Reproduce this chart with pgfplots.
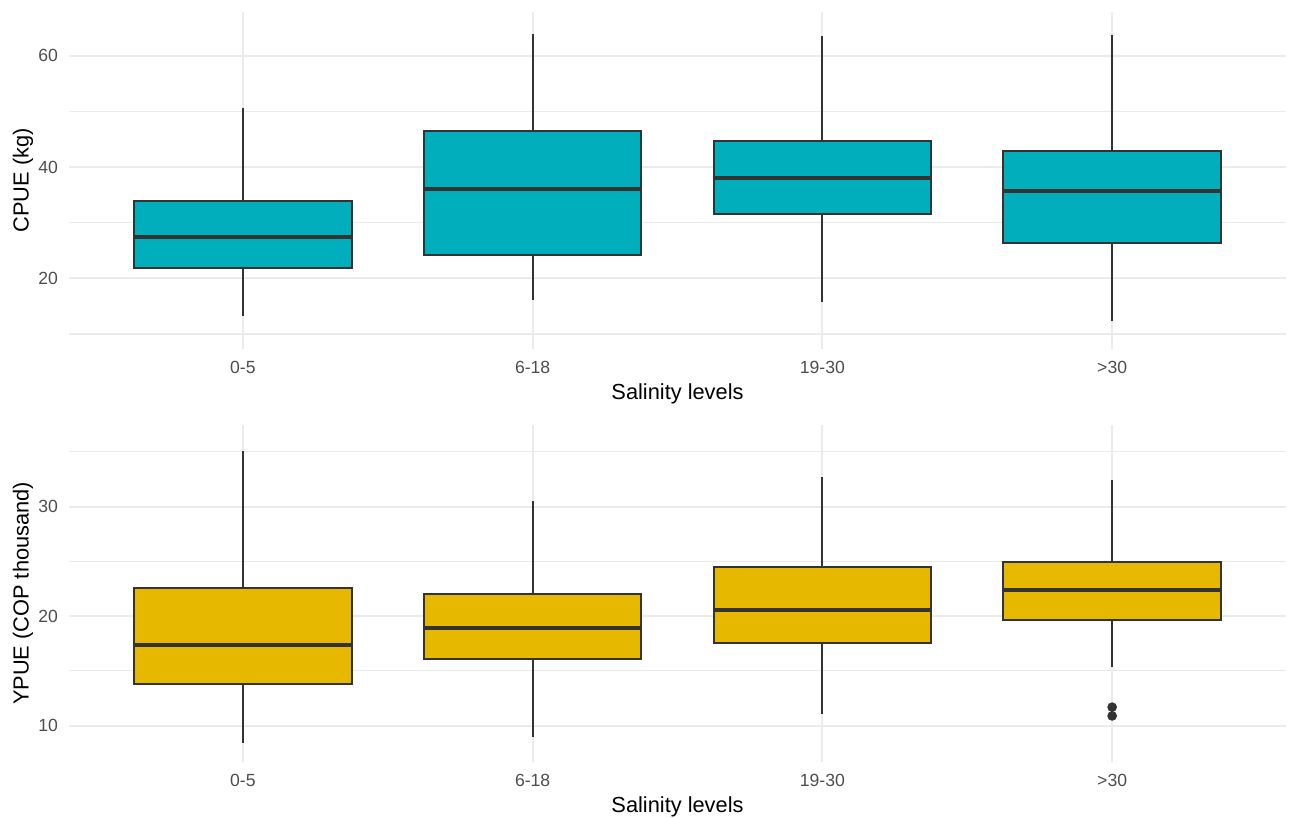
\documentclass[border=0pt]{standalone}
\usepackage{fontspec}
\setmainfont{Liberation Sans}
\usepackage{pgfplots}
\pgfplotsset{compat=1.18}
\definecolor{tealc}{HTML}{00AFBB}
\definecolor{goldc}{HTML}{E7B800}
\definecolor{edgec}{HTML}{333333}
\definecolor{gridc}{HTML}{EBEBEB}
\definecolor{tickc}{HTML}{4D4D4D}
\pgfplotsset{
 panel/.style={
  scale only axis, width=608.5pt, height=168.5pt,
  xmin=-0.6, xmax=3.6, xtick={0,1,2,3}, xticklabels={0-5,6-18,19-30,{>30}},
  axis line style={draw=none}, major tick length=0pt, minor tick length=0pt,
  tick style={draw=none},
  grid=both, major grid style={gridc, line width=1pt}, minor grid style={gridc, line width=0.6pt},
  ticklabel style={font=\fontsize{8.8}{10}\selectfont, text=tickc, inner sep=0pt},
  xticklabel style={anchor=base, yshift=-12.15pt},
  yticklabel style={anchor=east, xshift=-5.35pt},
  /pgf/number format/assume math mode=true,
  label style={font=\fontsize{10.9}{12}\selectfont, inner sep=0pt},
  xlabel={Salinity levels},
  xlabel style={at={(axis description cs:0.5,0)}, anchor=base, yshift=-25.2pt},
  ylabel style={at={(axis description cs:-0.0378,0.5)}, anchor=center},
 },
}
% #1 left edge, #2 centre, #3 right edge, #4 lower whisker, #5 lower quartile,
% #6 median, #7 upper quartile, #8 upper whisker, #9 fill colour
\newcommand{\bxp}[9]{%
 \addplot[edgec, line width=1pt, forget plot] coordinates {(#2,#4) (#2,#5)};
 \addplot[edgec, line width=1pt, forget plot] coordinates {(#2,#7) (#2,#8)};
 \addplot[fill=#9, draw=edgec, line width=1pt, forget plot] coordinates {(#1,#5) (#3,#5) (#3,#7) (#1,#7)} --cycle;
 \addplot[edgec, line width=2pt, forget plot] coordinates {(#1,#6) (#3,#6)};
}
\begin{document}
\begin{tikzpicture}
\path[use as bounding box] (0,0) rectangle (645pt,-409pt);
\begin{axis}[panel, at={(34.5pt,-6pt)}, anchor=north west,
  ymin=7.3, ymax=67.85, ytick={20,40,60}, minor ytick={10,30,50}, ylabel={CPUE (kg)}]
\bxp{-0.375}{0}{0.375}{13.2}{21.85}{27.4}{33.9}{50.66}{tealc}
\bxp{0.625}{1}{1.375}{16.05}{24.1}{36.1}{46.4}{63.9}{tealc}
\bxp{1.625}{2}{2.375}{15.7}{31.6}{38.0}{44.6}{63.6}{tealc}
\bxp{2.625}{3}{3.375}{12.3}{26.3}{35.65}{42.96}{63.8}{tealc}
\end{axis}
\begin{axis}[panel, at={(34.5pt,-212.5pt)}, anchor=north west,
  ymin=6.67, ymax=37.45, ytick={10,20,30}, minor ytick={15,25,35}, ylabel={YPUE (COP thousand)}]
\bxp{-0.375}{0}{0.375}{8.45}{13.8}{17.4}{22.6}{35.1}{goldc}
\bxp{0.625}{1}{1.375}{8.96}{16.1}{18.9}{21.99}{30.5}{goldc}
\bxp{1.625}{2}{2.375}{11.1}{17.53}{20.58}{24.5}{32.7}{goldc}
\bxp{2.625}{3}{3.375}{15.36}{19.67}{22.35}{24.94}{32.4}{goldc}
\addplot[only marks, mark=*, mark size=2.2pt, mark options={fill=edgec, draw=edgec}] coordinates {(3,11.68) (3,10.88)};
\end{axis}
\end{tikzpicture}
\end{document}
